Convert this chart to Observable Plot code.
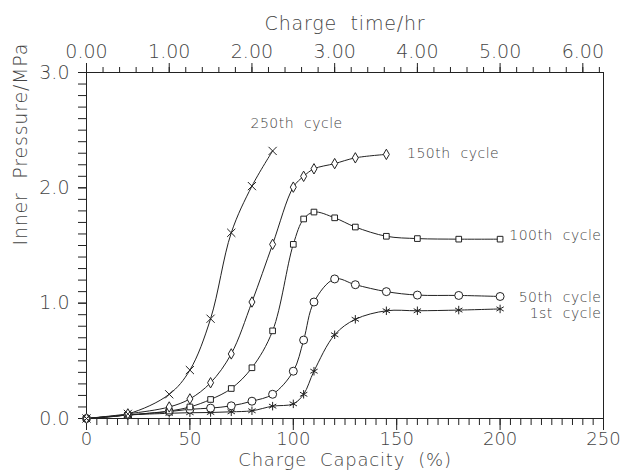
<!DOCTYPE html>
<html>
<head>
<meta charset="utf-8">
<script src="https://cdn.jsdelivr.net/npm/d3@7"></script>
<script src="https://cdn.jsdelivr.net/npm/@observablehq/plot@0.6"></script>
<style>
  html, body { margin: 0; padding: 0; background: #fff; }
  #chart svg { white-space: pre; }
  #chart svg text { font-weight: 200; }
  #chart svg .title text { letter-spacing: 0.8px; }
  #chart svg .series-label text { letter-spacing: 0.5px; }
</style>
</head>
<body>
<div id="chart"></div>
<script>
// ---- data ----
const seriesNames = ["1st  cycle", "50th  cycle", "100th  cycle", "150th  cycle", "250th  cycle"];

const capacity1st   = [0, 20, 40, 50, 60, 70, 80, 90, 100, 105, 110, 120, 130, 145, 160, 180, 200];
const pressure1st   = [0, 0.03, 0.045, 0.05, 0.052, 0.058, 0.067, 0.107, 0.127, 0.21, 0.41, 0.726, 0.86, 0.934, 0.934, 0.94, 0.95];

const capacity50th  = [0, 20, 40, 50, 60, 70, 80, 90, 100, 105, 110, 120, 130, 145, 160, 180, 200];
const pressure50th  = [0, 0.03, 0.06, 0.08, 0.09, 0.11, 0.15, 0.21, 0.41, 0.68, 1.01, 1.21, 1.16, 1.10, 1.07, 1.067, 1.058];

const capacity100th = [0, 20, 40, 50, 60, 70, 80, 90, 100, 105, 110, 120, 130, 145, 160, 180, 200];
const pressure100th = [0, 0.03, 0.065, 0.10, 0.165, 0.26, 0.44, 0.76, 1.51, 1.73, 1.79, 1.74, 1.66, 1.58, 1.56, 1.555, 1.555];

const capacity150th = [0, 20, 40, 50, 60, 70, 80, 90, 100, 105, 110, 120, 130, 145];
const pressure150th = [0, 0.04, 0.10, 0.17, 0.31, 0.56, 1.01, 1.51, 2.006, 2.10, 2.165, 2.21, 2.26, 2.29];

const capacity250th = [0, 20, 40, 50, 60, 70, 80, 90];
const pressure250th = [0, 0.04, 0.21, 0.42, 0.865, 1.61, 2.015, 2.32];

const xTicks = [0, 50, 100, 150, 200, 250];
const xMinorTicks = d3.range(0, 251, 5);
const yTicks = [0, 1, 2, 3];
const yMinorTicks = d3.range(0, 31).map(i => i / 10);
const hourTicks = [0, 1, 2, 3, 4, 5, 6];
const hourMinorTicks = d3.range(0, 32).map(i => i / 5);
const capacityPerHour = 40; // 250 % corresponds to 6.25 h

// ---- build table ----
const caps = [capacity1st, capacity50th, capacity100th, capacity150th, capacity250th];
const pres = [pressure1st, pressure50th, pressure100th, pressure150th, pressure250th];
const series = seriesNames.map((name, i) => caps[i].map((c, j) => ({series: name, x: c, y: pres[i][j]})));
const all = series.flat();

// tall diamond symbol
const tallDiamond = {
  draw(ctx, size) {
    const s = Math.sqrt(size / Math.PI);
    const w = s * 0.75, h = s * 1.3;
    ctx.moveTo(0, -h); ctx.lineTo(w, 0); ctx.lineTo(0, h); ctx.lineTo(-w, 0); ctx.closePath();
  }
};
const symbols = ["asterisk", "circle", "square2", tallDiamond, "times"];
const rs = [4, 4, 3.6, 4, 3.8];

const ink = "#222";
const textInk = "#444";
const fontFamily = "'DejaVu Sans', sans-serif";

const marks = [
  Plot.frame({stroke: ink, strokeWidth: 1}),
  // bottom axis
  Plot.axisX({ticks: xMinorTicks, tickSize: 7, tickFormat: () => "", stroke: ink, label: null}),
  Plot.axisX({ticks: xTicks, tickSize: 12, tickPadding: 2, tickFormat: d => String(d), fontSize: 18, fill: textInk, stroke: ink, label: null}),
  // top axis in hours
  Plot.axisX({anchor: "top", ticks: hourMinorTicks.map(h => h * capacityPerHour), tickSize: 6, tickFormat: () => "", stroke: ink, label: null}),
  Plot.axisX({anchor: "top", ticks: hourTicks.map(h => h * capacityPerHour), tickSize: 10, tickPadding: 5, tickFormat: d => (d / capacityPerHour).toFixed(2), fontSize: 19, fill: textInk, stroke: ink, label: null}),
  // left axis
  Plot.axisY({ticks: yMinorTicks, tickSize: 8, tickFormat: () => "", stroke: ink, label: null}),
  Plot.axisY({ticks: yTicks, tickSize: 8, tickPadding: 9, tickFormat: d => d.toFixed(1), fontSize: 19, fill: textInk, stroke: ink, label: null}),
  // axis titles
  Plot.text(["Charge  Capacity  (%)"], {frameAnchor: "bottom", dy: 47, fontSize: 18, fill: textInk, className: "title"}),
  Plot.text(["Charge  time/hr"], {frameAnchor: "top", dy: -56, fontSize: 19, fill: textInk, className: "title"}),
  Plot.text(["Inner  Pressure/MPa"], {frameAnchor: "left", rotate: -90, dx: -66, fontSize: 19, fill: textInk, className: "title"}),
  // curves
  Plot.line(all, {x: "x", y: "y", z: "series", curve: "catmull-rom", stroke: ink, strokeWidth: 1})
];

series.forEach((s, i) => {
  marks.push(Plot.dot(s, {x: "x", y: "y", symbol: symbols[i], r: rs[i], stroke: ink, fill: "white", strokeWidth: 1}));
});

// series labels
const labelSpec = [
  {i: 0, x: 249, y: 0.913, anchor: "end"},
  {i: 1, x: 249, y: 1.052, anchor: "end"},
  {i: 2, x: 249, y: 1.587, anchor: "end"},
  {i: 3, x: 155, y: 2.30, anchor: "start"},
  {i: 4, x: 79.3, y: 2.56, anchor: "start"}
];
labelSpec.forEach(l => {
  marks.push(Plot.text([seriesNames[l.i]], {x: () => l.x, y: () => l.y, text: d => d, textAnchor: l.anchor, fontSize: 14, fill: textInk, className: "series-label"}));
});

const chart = Plot.plot({
  width: 633,
  height: 474,
  marginLeft: 86,
  marginRight: 30,
  marginTop: 72,
  marginBottom: 56,
  x: {domain: [0, 250]},
  y: {domain: [0, 3]},
  style: {fontFamily, background: "white", color: ink},
  marks
});
document.getElementById("chart").appendChild(chart);
</script>
</body>
</html>
